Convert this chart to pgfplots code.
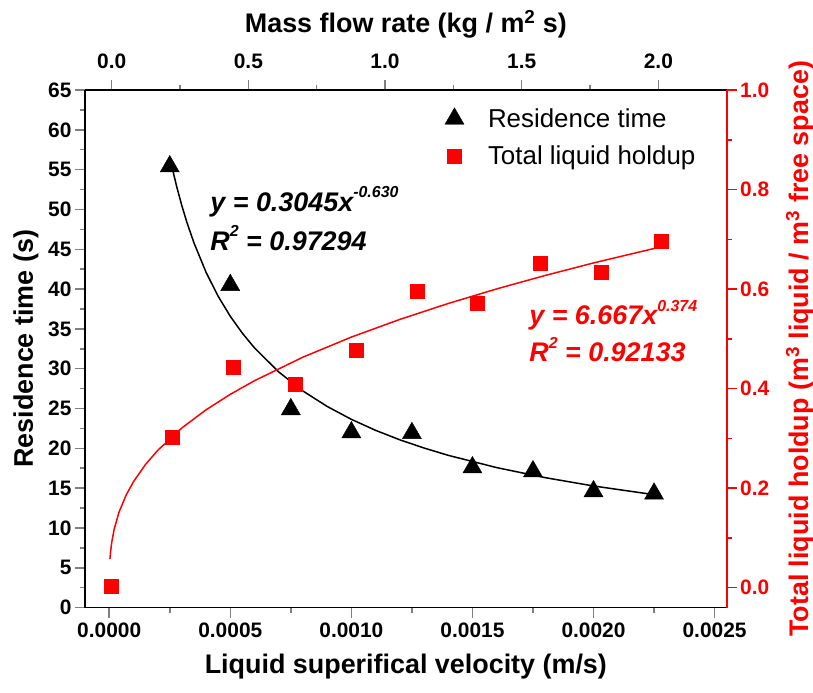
\documentclass[border=0pt]{standalone}
\usepackage{pgfplots}
\pgfplotsset{compat=1.18}
\usepackage{fontspec}
\setmainfont{Liberation Sans}
\definecolor{pured}{RGB}{255,0,0}
\newcommand{\sups}[1]{\raisebox{0.5em}{\fontsize{16}{16}\selectfont #1}}
\begin{document}
\begin{tikzpicture}
\pgfplotsset{
  base/.style={
    scale only axis, width=641.7bp, height=517.6bp,
    tick align=outside, major tick length=10bp, minor tick length=5bp,
    tick style={line width=1.5bp},
    axis line style={line width=1.8bp},
    tick label style={font=\bfseries\fontsize{21}{25}\selectfont},
    label style={font=\bfseries\fontsize{27}{31}\selectfont},
    /pgf/number format/assume math mode=true,
  }
}
% top axis (mass flow rate)
\begin{axis}[base,
  axis x line*=top, hide y axis,
  xmin=-0.0977, xmax=2.25, ymin=0, ymax=1,
  xtick={0,0.5,1,1.5,2}, minor x tick num=1,
  xticklabel style={yshift=8bp, /pgf/number format/.cd, fixed, fixed zerofill, precision=1},
  xlabel={Mass flow rate (kg / m\textsuperscript{2} s)},
  xlabel style={at={(axis description cs:0.5,1.112)}, anchor=base},
]
\end{axis}
% main axis
\begin{axis}[base, name=main,
  axis x line*=bottom, axis y line*=left,
  xmin=-0.0001, xmax=0.00255, ymin=0, ymax=65,
  xtick={0,0.0005,0.001,0.0015,0.002,0.0025}, minor x tick num=1,
  scaled x ticks=false,
  xticklabel style={yshift=-2bp, /pgf/number format/.cd, fixed, fixed zerofill, precision=4},
  ytick={0,5,...,65}, minor y tick num=1,
  xlabel={Liquid superifical velocity (m/s)},
  ylabel={Residence time (s)},
  xlabel style={at={(axis description cs:0.5,-0.128)}, anchor=base},
  ylabel style={at={(axis description cs:-0.092,0.5)}, anchor=center},
  legend style={draw=none, fill=none, at={(axis description cs:0.556,0.972)}, anchor=north west,
    font=\fontsize{26}{30}\selectfont, row sep=13bp,
    /tikz/every odd column/.append style={column sep=22bp}},
  legend cell align=left,
]
\addplot[black, line width=1.5bp, forget plot] coordinates {
(0.000262,54.97)(0.00028,52.71)(0.0003,50.47)(0.00032,48.45)(0.00035,45.80)(0.0004,42.10)
(0.00045,39.09)(0.0005,36.58)(0.00055,34.45)(0.0006,32.61)(0.0007,29.59)(0.0008,27.20)
(0.0009,25.26)(0.001,23.64)(0.0011,22.26)(0.0012,21.07)(0.0013,20.04)(0.0014,19.12)
(0.0016,17.58)(0.0018,16.32)(0.002,15.27)(0.00226,14.14)};
\addplot[only marks, mark=triangle*, mark size=11bp, black] coordinates {
(0.00025,55.4)(0.0005,40.5)(0.00075,24.9)(0.001,22.0)(0.00125,21.9)
(0.0015,17.6)(0.00175,17.1)(0.002,14.6)(0.00225,14.3)};
\addlegendentry{Residence time}
\addlegendimage{only marks, mark=square*, mark size=7bp, pured}
\addlegendentry{Total liquid holdup}
\node[anchor=west, font=\bfseries\itshape\fontsize{27}{31}\selectfont, text=black]
  at (axis description cs:0.19,0.784) {y = 0.3045x\sups{-0.630}};
\node[anchor=west, font=\bfseries\itshape\fontsize{27}{31}\selectfont, text=black]
  at (axis description cs:0.19,0.714) {R\sups{2} = 0.97294};
\end{axis}
% right axis (holdup)
\begin{axis}[base,
  axis y line*=right, hide x axis,
  xmin=-0.0001, xmax=0.00255, ymin=-0.04, ymax=1.0,
  ytick={0,0.2,0.4,0.6,0.8,1.0}, minor y tick num=1,
  yticklabel style={pured, /pgf/number format/.cd, fixed, fixed zerofill, precision=1},
  y axis line style={pured}, tick style={line width=1.5bp, pured},
  ylabel={Total liquid holdup (m\textsuperscript{3} liquid / m\textsuperscript{3} free space)},
  ylabel style={pured, at={(axis description cs:1.114,0.5)}, anchor=center},
]
\addplot[pured, line width=1.5bp] coordinates {
(0.000003,0.0573)(0.000005,0.0694)(0.00001,0.0900)(0.00002,0.1166)(0.00004,0.1511)
(0.00007,0.1862)(0.0001,0.2128)(0.00015,0.2477)(0.0002,0.2758)(0.0003,0.3209)
(0.0004,0.3574)(0.0005,0.3885)(0.0006,0.4159)(0.0008,0.4632)(0.001,0.5035)
(0.0012,0.5390)(0.0014,0.5710)(0.0016,0.6003)(0.0018,0.6273)(0.002,0.6525)(0.00228,0.685)};
\addplot[only marks, mark=square*, mark size=7bp, pured] coordinates {
(0.00001,0.003)(0.00026,0.303)(0.00051,0.443)(0.00077,0.408)(0.00102,0.477)
(0.00127,0.595)(0.00152,0.572)(0.00178,0.652)(0.00203,0.633)(0.00228,0.697)};
\node[anchor=west, font=\bfseries\itshape\fontsize{27}{31}\selectfont, text=pured]
  at (axis description cs:0.687,0.565) {y = 6.667x\sups{0.374}};
\node[anchor=west, font=\bfseries\itshape\fontsize{27}{31}\selectfont, text=pured]
  at (axis description cs:0.687,0.498) {R\sups{2} = 0.92133};
\end{axis}
\pgfresetboundingbox
\path[use as bounding box] ([shift={(-85bp,-85.4bp)}]main.south west) rectangle ([shift={(86.3bp,90bp)}]main.north east);
\end{tikzpicture}
\end{document}
